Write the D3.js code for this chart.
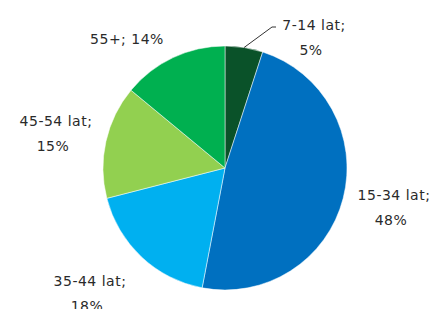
<!DOCTYPE html>
<html lang="pl">
<head>
<meta charset="utf-8">
<script src="https://d3js.org/d3.v7.min.js"></script>
<style>
  body { margin: 0; background: #fff; }
  text { font-family: "DejaVu Sans", sans-serif; font-size: 14px; letter-spacing: 0.5px; fill: #2a2a2a; }
</style>
</head>
<body>
<script>
// data
var categories = ["7-14 lat", "15-34 lat", "35-44 lat", "45-54 lat", "55+"];
var shares = [5, 48, 18, 15, 14];
var colors = ["#0a5229", "#0070c0", "#00b0f0", "#92d050", "#00b050"];

var w = 433, h = 309;
var cx = 225, cy = 168, r = 122;

var svg = d3.select("body").append("svg")
    .attr("width", w)
    .attr("height", h);

var pie = d3.pie().sort(null).value(function(d) { return d; });
var arc = d3.arc().innerRadius(0).outerRadius(r);
var arcs = pie(shares);

var g = svg.append("g").attr("transform", "translate(" + cx + "," + cy + ")");

g.selectAll("path")
    .data(arcs)
    .enter()
    .append("path")
    .attr("d", arc)
    .attr("fill", function(d, i) { return colors[i]; })
    .attr("stroke", "#fff")
    .attr("stroke-width", 0.5);

// label placement relative to the centre: x, baseline y, two lines?
var labelPos = [
    [89, -138, true],
    [169, 32, true],
    [-135, 118, true],
    [-169, -42, true],
    [-98, -124, false]
];

arcs.forEach(function(d, i) {
    var p = labelPos[i];
    var t = g.append("text").attr("text-anchor", "middle");
    if (p[2]) {
        t.append("tspan").attr("x", p[0]).attr("y", p[1]).text(categories[i] + ";");
        t.append("tspan").attr("x", p[0] - 3).attr("y", p[1] + 25).text(shares[i] + "%");
    } else {
        t.attr("x", p[0]).attr("y", p[1]).text(categories[i] + "; " + shares[i] + "%");
    }
});

// leader line for the small slice
var mid = (arcs[0].startAngle + arcs[0].endAngle) / 2;
var edge = [Math.sin(mid) * r, -Math.cos(mid) * r];
g.append("polyline")
    .attr("points", [edge, [47, -141], [51, -141]].map(function(p) { return p.join(","); }).join(" "))
    .attr("fill", "none")
    .attr("stroke", "#333")
    .attr("stroke-width", 1);
</script>
</body>
</html>
